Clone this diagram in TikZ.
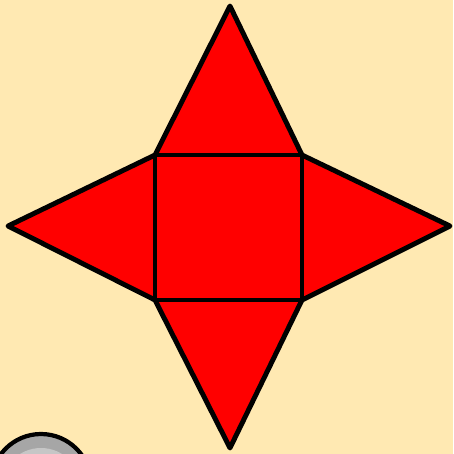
\documentclass[tikz,border=0pt]{standalone}
\usepackage{tikz}
\definecolor{paper}{RGB}{255,233,178}
\definecolor{netred}{RGB}{255,0,0}

\begin{document}
\begin{tikzpicture}[x=0.01cm,y=-0.01cm]
        \fill[paper] (0,0) rectangle (453,454);
        \useasboundingbox (0,0) rectangle (453,454);
        % square base and the four faces
        \coordinate (a) at (155,155);
        \coordinate (b) at (302,155);
        \coordinate (c) at (302,300);
        \coordinate (d) at (155,300);
        \coordinate (top) at (230,6);
        \coordinate (right) at (450,226);
        \coordinate (bottom) at (230,448);
        \coordinate (left) at (8,226);
        \draw[fill=netred,line width=1.4pt,line join=round] (a) -- (top) -- (b) -- (right) -- (c) -- (bottom) -- (d) -- (left) -- cycle;
        \draw[line width=1.4pt] (a) -- (b) -- (c) -- (d) -- cycle;
        % grey knob in the corner
        \begin{scope}
        \clip (0,0) rectangle (453,454);
        \draw[fill=gray!70,line width=1.2pt] (41,484) circle (50);
        \fill[gray!45] (41,488) circle (40);
        \end{scope}
    \end{tikzpicture}
\end{document}
